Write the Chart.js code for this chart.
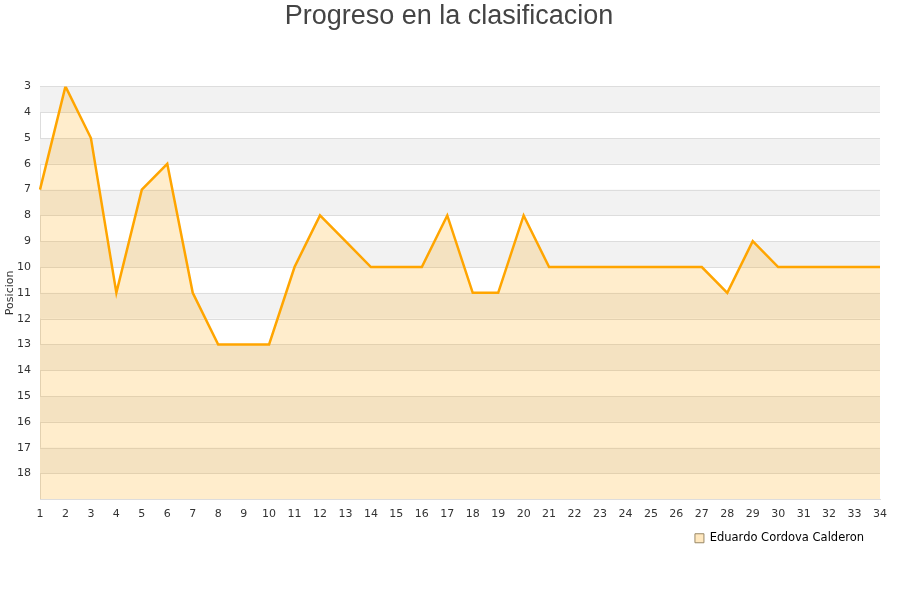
<!DOCTYPE html>
<html>
<head>
<meta charset="utf-8">
<script src="https://cdn.jsdelivr.net/npm/chart.js@4/dist/chart.umd.min.js"></script>
<style>
html,body{margin:0;padding:0;background:#fff;}
#wrap{width:900px;height:600px;position:relative;}
</style>
</head>
<body>
<div id="wrap"><canvas id="c" width="900" height="600"></canvas></div>
<script>
const chartTitle = "Progreso en la clasificacion";
const seriesName = "Eduardo Cordova Calderon";
const yAxisTitle = "Posicion";
const jornadas = ["1","2","3","4","5","6","7","8","9","10","11","12","13","14","15","16","17","18","19","20","21","22","23","24","25","26","27","28","29","30","31","32","33","34"];
const posiciones = [7,3,5,11,7,6,11,13,13,13,10,8,9,10,10,10,8,11,11,8,10,10,10,10,10,10,10,11,9,10,10,10,10,10];
const yMin = 3, yMax = 19;

const bandPlugin = {
  id: 'bands',
  afterLayout(chart) {
    if (chart.legend) { chart.legend.left -= 12; chart.legend.right -= 12; }
    if (chart.titleBlock) { chart.titleBlock.left += 7; chart.titleBlock.right += 7; }
  },
  beforeDatasetsDraw(chart) {
    const {ctx, chartArea, scales} = chart;
    const y = scales.y;
    ctx.save();
    for (let v = yMin; v < yMax; v++) {
      if ((v - yMin) % 2 === 0) {
        const a = y.getPixelForValue(v), b = y.getPixelForValue(v + 1);
        ctx.fillStyle = '#f2f2f2';
        ctx.fillRect(chartArea.left, Math.min(a,b), chartArea.right - chartArea.left, Math.abs(b - a));
      }
    }
    ctx.strokeStyle = '#dddddd';
    ctx.lineWidth = 1;
    for (let v = yMin; v <= yMax; v++) {
      const p = Math.round(y.getPixelForValue(v)) + 0.5;
      ctx.beginPath();
      ctx.moveTo(chartArea.left, p);
      ctx.lineTo(chartArea.right, p);
      ctx.stroke();
    }
    ctx.restore();
  }
};

new Chart(document.getElementById('c'), {
  type: 'line',
  data: {
    labels: jornadas,
    datasets: [{
      label: seriesName,
      data: posiciones,
      borderColor: '#FFA500',
      backgroundColor: 'rgba(255,165,0,0.2)',
      borderWidth: 2.5,
      pointRadius: 0,
      tension: 0,
      fill: { value: yMax }
    }]
  },
  options: {
    responsive: false,
    animation: false,
    devicePixelRatio: 1,
    layout: { padding: { left: 4, right: 20, top: 0, bottom: 46 } },
    plugins: {
      title: {
        display: true,
        text: chartTitle,
        color: '#444444',
        font: { family: 'Liberation Sans', size: 27, weight: 'normal' },
        padding: { top: 0, bottom: 54 }
      },
      legend: {
        display: true,
        position: 'bottom',
        align: 'end',
        labels: {
          color: '#000',
          font: { family: 'DejaVu Sans', size: 11.5 },
          boxWidth: 9,
          boxHeight: 9,
          padding: 4,
          generateLabels(chart) {
            return [{
              text: seriesName,
              fillStyle: 'rgba(255,165,0,0.25)',
              strokeStyle: '#998866',
              lineWidth: 1,
              datasetIndex: 0
            }];
          }
        }
      },
      tooltip: { enabled: false }
    },
    scales: {
      x: {
        offset: false,
        grid: { display: false, drawTicks: false },
        border: { color: '#dddddd' },
        ticks: {
          color: '#333',
          font: { family: 'DejaVu Sans', size: 11 },
          maxRotation: 0,
          autoSkip: false,
          padding: 8
        }
      },
      y: {
        reverse: true,
        min: yMin,
        max: yMax,
        afterFit(scale) { scale.width = 36; },
        grid: { display: false, drawTicks: false },
        border: { color: '#dddddd' },
        title: {
          display: true,
          text: yAxisTitle,
          color: '#333',
          font: { family: 'DejaVu Sans', size: 11 },
          padding: 0
        },
        ticks: {
          stepSize: 1,
          color: '#333',
          font: { family: 'DejaVu Sans', size: 11 },
          padding: 9,
          callback: (v) => (v === yMax ? '' : v)
        }
      }
    }
  },
  plugins: [bandPlugin]
});
</script>
</body>
</html>
